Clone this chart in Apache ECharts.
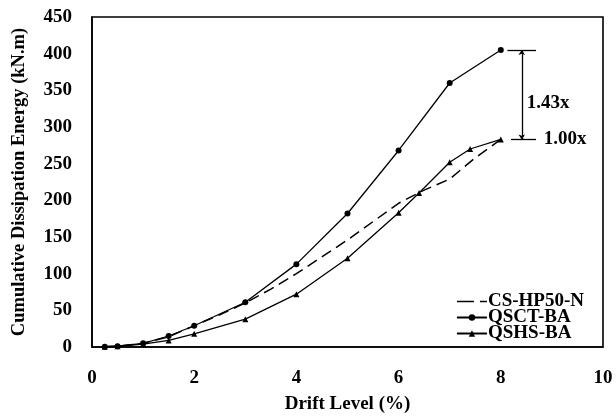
<!DOCTYPE html>
<html>
<head>
<meta charset="utf-8">
<script src="https://cdn.jsdelivr.net/npm/echarts@6/dist/echarts.min.js"></script>
<style>
  html, body { margin: 0; padding: 0; background: #fff; }
  #chart { width: 616px; height: 419px; }
</style>
</head>
<body>
<div id="chart"></div>
<script>
// Drift level (%) at each recorded cycle
const driftCSHP = [0.25, 0.5, 1, 1.5, 2, 2.5, 3, 3.5, 4, 5, 6, 6.5, 7, 7.5, 8];
const energyCSHP = [0.5, 1, 5, 14, 29, 44, 60, 79, 100, 146, 196, 214, 229, 258, 283];

const driftQSCT = [0.25, 0.5, 1, 1.5, 2, 3, 4, 5, 6, 7, 8];
const energyQSCT = [0.5, 1, 5, 15, 29, 61, 113, 182, 268, 360, 405];

const driftQSHS = [0.25, 0.5, 1, 1.5, 2, 3, 4, 5, 6, 6.4, 7, 7.4, 8];
const energyQSHS = [0.5, 1, 4, 9, 18, 38, 72, 121, 183, 210, 252, 270, 283];

const xTicks = [0, 2, 4, 6, 8, 10];
const yTicks = [0, 50, 100, 150, 200, 250, 300, 350, 400, 450];

const seriesNames = ['CS-HP50-N', 'QSCT-BA', 'QSHS-BA'];
const ratioLabels = ['1.43x', '1.00x'];

const pair = (xs, ys) => xs.map((x, i) => [x, ys[i]]);
const FONT = '"Liberation Serif", "Times New Roman", serif';

const peakHigh = energyQSCT[energyQSCT.length - 1];
const peakLow = energyQSHS[energyQSHS.length - 1];

// long dash + short dash key for the dashed series
const dashIcon = 'path://M0,3.2h17v1.6h-17zM23,3.2h7v1.6h-7zM0,0h0.01v8h-0.01z';

const chart = echarts.init(document.getElementById('chart'));
chart.setOption({
  animation: false,
  backgroundColor: '#fff',
  grid: { left: 92, right: 13, top: 17, bottom: 69, show: true, borderColor: '#000', borderWidth: 1.6 },
  xAxis: {
    type: 'value', min: 0, max: 10, interval: 2,
    name: 'Drift Level (%)', nameLocation: 'middle', nameGap: 48,
    nameTextStyle: { fontFamily: FONT, fontWeight: 'bold', fontSize: 19, color: '#000' },
    axisLine: { lineStyle: { color: '#000', width: 1.6 } },
    axisTick: { show: false },
    splitLine: { show: false },
    axisLabel: { fontFamily: FONT, fontWeight: 'bold', fontSize: 19, color: '#000', margin: 22,
      formatter: v => xTicks.includes(v) ? String(v) : '' }
  },
  yAxis: {
    type: 'value', min: 0, max: 450, interval: 50,
    name: 'Cumulative Dissipation Energy (kN.m)', nameLocation: 'middle', nameGap: 63,
    nameTextStyle: { fontFamily: FONT, fontWeight: 'bold', fontSize: 18.5, color: '#000' },
    axisLine: { lineStyle: { color: '#000', width: 1.6 } },
    axisTick: { show: false },
    splitLine: { show: false },
    axisLabel: { fontFamily: FONT, fontWeight: 'bold', fontSize: 19, color: '#000', margin: 20,
      formatter: v => yTicks.includes(v) ? String(v) : '' }
  },
  legend: {
    orient: 'vertical', right: 27, top: 287, itemGap: -3,
    itemWidth: 30, itemHeight: 8,
    textStyle: { fontFamily: FONT, fontWeight: 'bold', fontSize: 19, color: '#000', lineHeight: 17, padding: [0, 0, 0, -4] },
    data: [
      { name: seriesNames[0], icon: dashIcon },
      { name: seriesNames[1] },
      { name: seriesNames[2] }
    ]
  },
  series: [
    {
      name: seriesNames[0], type: 'line', data: pair(driftCSHP, energyCSHP),
      showSymbol: false, symbol: 'none',
      lineStyle: { color: '#000', width: 1.5, type: [11, 6] }, itemStyle: { color: '#000' }
    },
    {
      name: seriesNames[1], type: 'line', data: pair(driftQSCT, energyQSCT),
      symbol: 'circle', symbolSize: 6,
      lineStyle: { color: '#000', width: 1.3 }, itemStyle: { color: '#000' },
      markLine: {
        silent: true, symbol: 'none', label: { show: false },
        lineStyle: { color: '#000', width: 1.3, type: 'solid' },
        data: [
          [{ coord: [8.13, peakHigh] }, { coord: [8.69, peakHigh] }],
          [{ coord: [8.2, peakLow] }, { coord: [8.69, peakLow] }],
          [{ coord: [8.41, peakHigh], symbol: 'arrow', symbolSize: 5 },
           { coord: [8.41, peakLow], symbol: 'arrow', symbolSize: 5 }]
        ]
      }
    },
    {
      name: seriesNames[2], type: 'line', data: pair(driftQSHS, energyQSHS),
      symbol: 'triangle', symbolSize: 6,
      lineStyle: { color: '#000', width: 1.3 }, itemStyle: { color: '#000' },
      markPoint: {
        silent: true, symbol: 'rect', symbolSize: 1, itemStyle: { color: 'rgba(0,0,0,0)' },
        label: { show: true, fontFamily: FONT, fontWeight: 'bold', fontSize: 19, color: '#000', position: 'right', distance: 0 },
        data: [
          { coord: [8.5, (peakHigh + peakLow) / 2 - 12], value: ratioLabels[0], label: { formatter: ratioLabels[0] } },
          { coord: [8.83, peakLow], value: ratioLabels[1], label: { formatter: ratioLabels[1] } }
        ]
      }
    }
  ]
});
</script>
</body>
</html>
